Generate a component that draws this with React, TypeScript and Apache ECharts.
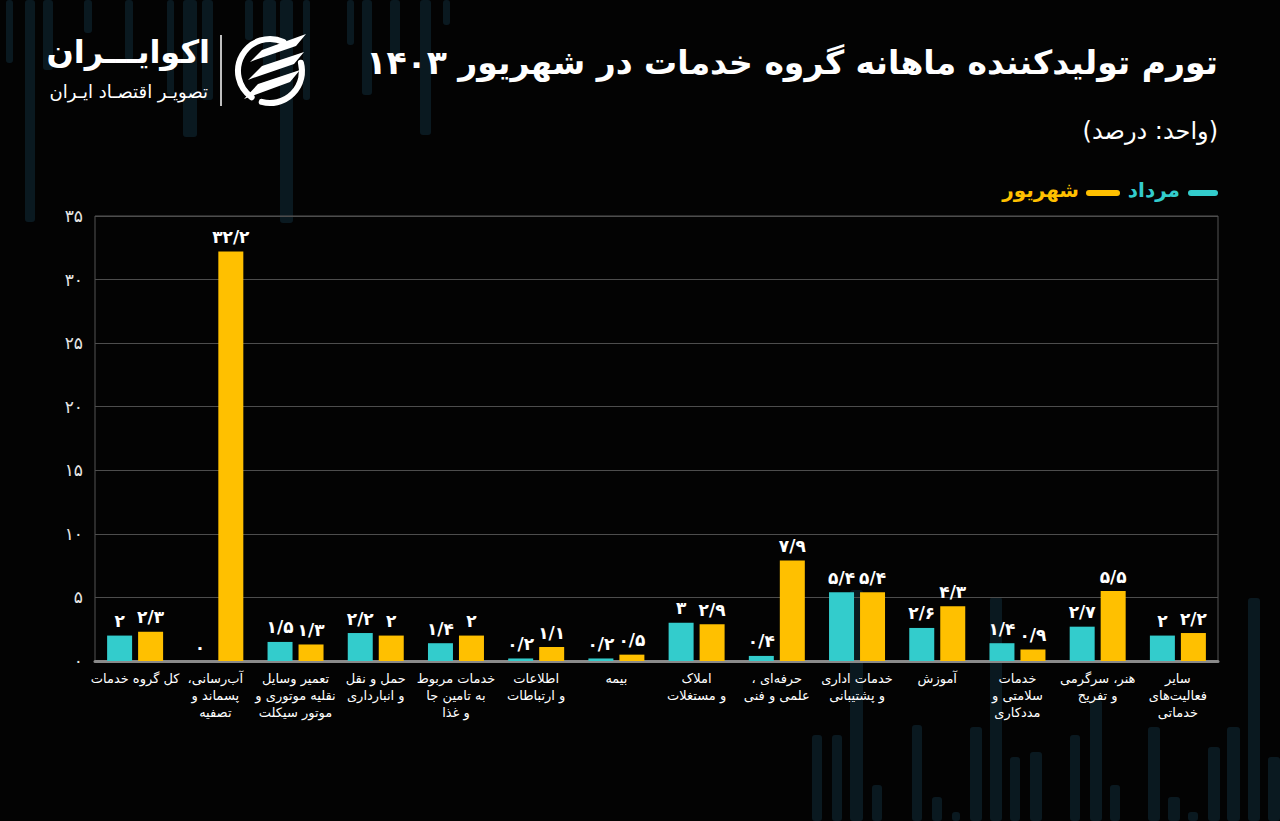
import React, { useEffect, useRef } from "react";
import * as echarts from "echarts";

const categories = [
  "کل گروه خدمات",
  "آب‌رسانی،\nپسماند و\nتصفیه",
  "تعمیر وسایل\nنقلیه موتوری و\nموتور سیکلت",
  "حمل و نقل\nو انبارداری",
  "خدمات مربوط\nبه تامین جا\nو غذا",
  "اطلاعات\nو ارتباطات",
  "بیمه",
  "املاک\nو مستغلات",
  "حرفه‌ای ،\nعلمی و فنی",
  "خدمات اداری\nو پشتیبانی",
  "آموزش",
  "خدمات\nسلامتی و\nمددکاری",
  "هنر، سرگرمی\nو تفریح",
  "سایر\nفعالیت‌های\nخدماتی",
];

const mordadValues = [2, 0, 1.5, 2.2, 1.4, 0.2, 0.2, 3, 0.4, 5.4, 2.6, 1.4, 2.7, 2];
const shahrivarValues = [2.3, 32.2, 1.3, 2, 2, 1.1, 0.5, 2.9, 7.9, 5.4, 4.3, 0.9, 5.5, 2.2];

const seriesNames = ["مرداد", "شهریور"];
const yTicks = [0, 5, 10, 15, 20, 25, 30, 35];

const titleText = "تورم تولیدکننده ماهانه گروه خدمات در شهریور ۱۴۰۳";
const unitText = "(واحد: درصد)";
const brandText = "اکوایـــران";
const brandSub = "تصویـر اقتصـاد ایـران";

// decorative background stripes [x, yTop, width, yBottom]
const bgStripesTop = [
  [6, 0, 7, 63], [25, 0, 10, 222], [43, 0, 10, 70], [84, 0, 8, 33], [125, 0, 8, 60],
  [167, 0, 7, 95], [183, 0, 14, 137], [202, 0, 11, 100], [245, 0, 8, 40], [263, 0, 13, 70],
  [280, 0, 13, 223], [303, 0, 7, 100], [347, 0, 7, 45], [362, 0, 10, 95], [390, 0, 10, 55],
  [420, 0, 11, 135], [443, 0, 7, 25],
];
const bgStripesBottom = [
  [812, 735, 10, 821], [832, 735, 10, 821], [850, 590, 13, 821], [872, 785, 10, 821],
  [912, 725, 10, 821], [932, 797, 10, 821], [952, 812, 8, 821], [970, 727, 12, 821],
  [990, 597, 12, 821], [1010, 757, 10, 821], [1030, 752, 12, 821], [1070, 735, 10, 821],
  [1090, 700, 12, 821], [1110, 785, 10, 821], [1148, 727, 12, 821], [1168, 797, 12, 821],
  [1188, 812, 10, 821], [1208, 747, 12, 821], [1227, 727, 13, 821], [1248, 598, 12, 821],
  [1268, 757, 12, 821],
];

const FA_DIGITS = "۰۱۲۳۴۵۶۷۸۹";
const toFa = (n: number | string) =>
  String(n).replace(/\d/g, (d) => FA_DIGITS[Number(d)]).replace(".", "/");

// mark every line as right-to-left
const rtl = (s: string) =>
  s
    .split("\n")
    .map((l) => "\u200F" + l + "\u200F")
    .join("\n");

const FONT = "DejaVu Sans";
const CYAN = "#33CCCC";
const YELLOW = "#FFC000";

export default function App() {
  const ref = useRef<HTMLDivElement>(null);
  useEffect(() => {
    if (!ref.current) return;
    const chart = echarts.init(ref.current, null, { renderer: "svg" });

    const stripes = [...bgStripesTop, ...bgStripesBottom].map((s) => ({
      type: "rect",
      shape: { x: s[0], y: s[1], width: s[2], height: s[3] - s[1], r: 3 },
      style: { fill: "#0a1920" },
      z: -10,
      silent: true,
    }));

    const stripePoly = (pts: number[][]) => ({
      type: "polygon",
      shape: { points: pts },
      style: { fill: "#ffffff" },
    });

    const valueLabel = {
      show: true,
      position: "top",
      distance: 6,
      color: "#ffffff",
      fontSize: 17,
      fontWeight: "bold",
      fontFamily: FONT,
      formatter: (p: any) => toFa(p.value),
    };

    const option: any = {
      animation: false,
      backgroundColor: "#030303",
      textStyle: { fontFamily: FONT },
      grid: {
        left: 95,
        right: 62,
        top: 216,
        bottom: 160,
        show: true,
        borderColor: "#555",
        borderWidth: 1,
      },
      xAxis: {
        type: "category",
        data: categories,
        axisLine: { show: true, lineStyle: { color: "#8a8a8a", width: 3 } },
        axisTick: { show: false },
        axisLabel: {
          color: "#ffffff",
          fontSize: 13,
          lineHeight: 17,
          fontFamily: FONT,
          margin: 9,
          interval: 0,
          align: "center",
          formatter: (v: string) => rtl(v),
        },
      },
      yAxis: {
        type: "value",
        min: 0,
        max: 35,
        interval: 5,
        axisLine: { show: false },
        axisTick: { show: false },
        splitLine: { lineStyle: { color: "#4d4d4d", width: 1 } },
        axisLabel: {
          color: "#e6e6e6",
          fontSize: 17,
          fontFamily: FONT,
          margin: 12,
          formatter: (v: number) => (yTicks.includes(v) ? toFa(v) : ""),
        },
      },
      series: [
        {
          name: seriesNames[0],
          type: "bar",
          data: mordadValues,
          barWidth: 25,
          barGap: "24%",
          itemStyle: { color: CYAN },
          label: valueLabel,
        },
        {
          name: seriesNames[1],
          type: "bar",
          data: shahrivarValues,
          barWidth: 25,
          itemStyle: { color: YELLOW },
          label: valueLabel,
        },
      ],
      graphic: [
        ...stripes,
        {
          type: "text",
          right: 62,
          top: 46,
          style: {
            text: rtl(titleText),
            fill: "#ffffff",
            fontSize: 33,
            fontWeight: "bold",
            fontFamily: FONT,
          },
        },
        {
          type: "text",
          right: 62,
          top: 119,
          style: {
            text: rtl(unitText),
            fill: "#ffffff",
            fontSize: 24,
            fontFamily: FONT,
          },
        },
        // legend
        {
          type: "rect",
          shape: { x: 1188, y: 190, width: 30, height: 6, r: 3 },
          style: { fill: CYAN },
        },
        {
          type: "text",
          right: 1280 - 1180,
          top: 180,
          style: { text: rtl(seriesNames[0]), fill: CYAN, fontSize: 20, fontWeight: "bold", fontFamily: FONT },
        },
        {
          type: "rect",
          shape: { x: 1086, y: 190, width: 34, height: 6, r: 3 },
          style: { fill: YELLOW },
        },
        {
          type: "text",
          right: 1280 - 1079,
          top: 180,
          style: { text: rtl(seriesNames[1]), fill: YELLOW, fontSize: 20, fontWeight: "bold", fontFamily: FONT },
        },
        // brand
        {
          type: "text",
          right: 1280 - 210,
          top: 36,
          style: { text: rtl(brandText), fill: "#ffffff", fontSize: 32, fontWeight: "bold", fontFamily: FONT },
        },
        {
          type: "text",
          right: 1280 - 208,
          top: 82,
          style: { text: rtl(brandSub), fill: "#ffffff", fontSize: 18, fontFamily: FONT },
        },
        {
          type: "line",
          shape: { x1: 221, y1: 35, x2: 221, y2: 106 },
          style: { stroke: "#ffffff", lineWidth: 1.5 },
        },
        {
          type: "arc",
          shape: { cx: 270, cy: 71, r: 32, startAngle: (125 * Math.PI) / 180, endAngle: (295 * Math.PI) / 180, clockwise: true },
          style: { stroke: "#ffffff", lineWidth: 6, fill: "none", lineCap: "round" },
        },
        {
          type: "arc",
          shape: { cx: 270, cy: 71, r: 32, startAngle: (-15 * Math.PI) / 180, endAngle: (105 * Math.PI) / 180, clockwise: true },
          style: { stroke: "#ffffff", lineWidth: 6, fill: "none", lineCap: "round" },
        },
        stripePoly([[250, 62], [262, 50], [306, 34], [296, 46], [255, 60]]),
        stripePoly([[248, 80], [262, 66], [304, 52], [294, 64], [253, 78]]),
        stripePoly([[244, 99], [258, 84], [300, 70], [290, 82], [249, 97]]),
      ],
    };

    chart.setOption(option);
    return () => chart.dispose();
  }, []);

  return (
    <div
      ref={ref}
      style={{ position: "fixed", left: 0, top: 0, width: 1280, height: 821 }}
    />
  );
}
